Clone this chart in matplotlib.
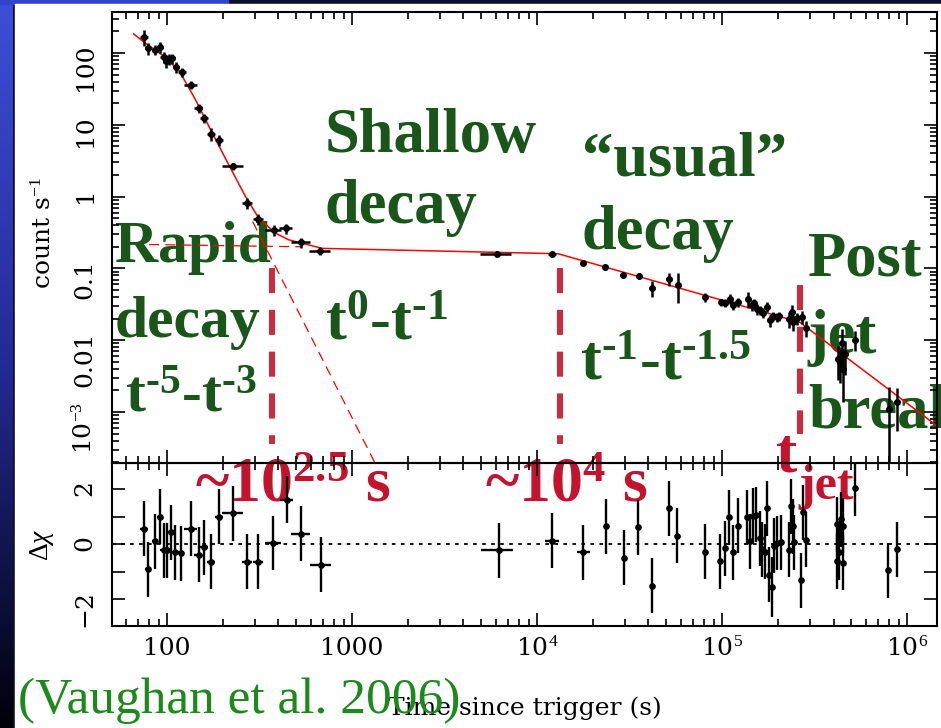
import numpy as np
import matplotlib.pyplot as plt
import matplotlib.transforms as mtransforms
from matplotlib.colors import LinearSegmentedColormap
from matplotlib.patches import Rectangle
from matplotlib.ticker import FixedLocator, FixedFormatter, LogLocator, NullFormatter

plt.rcParams['font.family'] = 'DejaVu Serif'
plt.rcParams['mathtext.fontset'] = 'custom'
plt.rcParams['mathtext.rm'] = 'Liberation Serif'
plt.rcParams['mathtext.bf'] = 'Liberation Serif:bold'
plt.rcParams['mathtext.it'] = 'Liberation Serif:italic'

# --- light curve (upper panel) ---
t_obs = [74.8, 78.7, 85.9, 91.4, 96, 99, 103, 106, 112, 120, 134, 148, 158.5, 172,
         192, 228, 271, 310, 377, 440, 532, 674,
         6080, 12060, 17700, 23300, 29300, 35600, 41700, 51700, 57400, 80900, 98400,
         1.04e5, 1.10e5, 1.15e5, 1.22e5, 1.38e5, 1.45e5, 1.49e5, 1.54e5, 1.60e5, 1.67e5,
         1.74e5, 1.82e5, 1.88e5, 1.98e5, 2.04e5, 2.31e5, 2.38e5, 2.43e5, 2.54e5, 2.71e5,
         2.84e5, 4.22e5, 4.34e5, 4.44e5, 4.49e5, 4.62e5, 5.25e5, 7.96e5, 8.79e5]
t_frac_err = [0.05, 0.04, 0.04, 0.04, 0.04, 0.04, 0.04, 0.04, 0.04, 0.05, 0.08, 0.05, 0.05, 0.05,
              0.05, 0.13, 0.06, 0.06, 0.10, 0.08, 0.12, 0.13,
              0.19, 0.05, 0.03, 0.03, 0.02, 0.02, 0.02, 0.02, 0.02, 0.02, 0.02,
              0.02, 0.02, 0.02, 0.02, 0.02, 0.02, 0.02, 0.02, 0.02, 0.02,
              0.02, 0.02, 0.02, 0.02, 0.02, 0.02, 0.02, 0.02, 0.02, 0.02,
              0.02, 0.02, 0.02, 0.02, 0.02, 0.02, 0.02, 0.02, 0.02]
rate = [166, 116, 111, 120, 87, 78, 82, 84, 64, 54, 36, 16.9, 12.4, 7.4,
        6.1, 2.65, 0.82, 0.49, 0.34, 0.36, 0.23, 0.176,
        0.159, 0.159, 0.12, 0.105, 0.081, 0.0785, 0.053, 0.071, 0.059, 0.040, 0.0337,
        0.033, 0.038, 0.031, 0.034, 0.038, 0.031, 0.0326, 0.0269, 0.0263, 0.0241,
        0.0292, 0.019, 0.0217, 0.0208, 0.0217, 0.0195, 0.0249, 0.018, 0.0201, 0.0212,
        0.015, 0.0055, 0.0050, 0.009, 0.0040, 0.0065, 0.0102, 0.0011, 0.00137]
rate_frac_err = [0.25, 0.2, 0.15, 0.17, 0.17, 0.2, 0.17, 0.17, 0.17, 0.15, 0.12, 0.15, 0.15, 0.2,
                 0.17, 0.12, 0.17, 0.17, 0.17, 0.17, 0.17, 0.12,
                 0.07, 0.05, 0.05, 0.05, 0.07, 0.10, 0.25, 0.20, 0.45, 0.15, 0.12,
                 0.12, 0.15, 0.15, 0.15, 0.25, 0.17, 0.15, 0.17, 0.15, 0.15,
                 0.15, 0.20, 0.15, 0.15, 0.15, 0.25, 0.25, 0.25, 0.20, 0.20,
                 0.25, 0.5, 0.5, 0.6, 0.65, 0.5, 0.3, 1.0, 0.6]

# --- residuals (lower panel) ---
t_res = [74.8, 78.7, 86, 91.4, 96, 100, 105, 111, 119, 134, 148, 159, 172, 192, 228, 271,
         310, 374, 444, 532, 680, 6200,
         12100, 17800, 23600, 29400, 35300, 41700, 51700, 56800, 80900, 98000,
         1.04e5, 1.09e5, 1.15e5, 1.22e5, 1.37e5, 1.42e5, 1.47e5, 1.53e5, 1.60e5, 1.64e5,
         1.70e5, 1.75e5, 1.79e5, 1.85e5, 1.91e5, 1.99e5, 2.07e5, 2.31e5, 2.36e5, 2.41e5,
         2.45e5, 2.66e5, 2.75e5, 2.83e5, 4.17e5, 4.17e5, 4.28e5, 4.40e5, 4.48e5, 4.52e5,
         5.2e5, 7.9e5, 8.8e5]
t_res_frac_err = [0.05, 0.04, 0.04, 0.04, 0.04, 0.04, 0.04, 0.04, 0.04, 0.08, 0.05, 0.05, 0.05,
                  0.05, 0.13, 0.06, 0.06, 0.10, 0.08, 0.12, 0.13, 0.2,
                  0.09, 0.08, 0.02, 0.02, 0.02, 0.02, 0.02, 0.02, 0.02, 0.02,
                  0.02, 0.02, 0.02, 0.02, 0.02, 0.02, 0.02, 0.02, 0.02, 0.02,
                  0.02, 0.02, 0.02, 0.02, 0.02, 0.02, 0.02, 0.02, 0.02, 0.02,
                  0.02, 0.02, 0.02, 0.02, 0.02, 0.02, 0.02, 0.02, 0.02, 0.02,
                  0.02, 0.02, 0.02]
dchi = [0.56, -0.91, 0.1, 1.0, -0.23, -0.23, 0.43, -0.3, -0.33, 0.55, -0.39, -0.12, -0.65,
        1.0, 1.13, -0.65, -0.65, 0.04, 1.61, 0.38, -0.75, -0.23,
        0.13, -0.3, 0.64, -0.5, 0.62, -1.52, 1.31, 0.3, -0.27, -0.63,
        -0.15, 0.98, -0.3, 0.67, 0.98, 0.1, 1.04, 1.07, 0.22, -0.18,
        -0.27, 1.31, -1.12, -1.56, -0.06, 0.04, 0.06, -0.21, 1.37, 0.64,
        0.07, -1.32, 1.15, 0.16, 0.73, -0.63, -0.3, 0.91, -0.67, 0.67,
        2.04, -0.96, -0.18]
dchi_err = [1.0, 1.0, 1.0, 1.0, 1.0, 1.0, 1.0, 1.0, 1.0, 1.0, 1.0, 1.0, 1.0,
            1.0, 1.0, 1.0, 1.0, 1.0, 0.85, 1.0, 1.0, 1.0,
            1.0, 1.0, 1.0, 1.0, 1.0, 1.0, 1.0, 1.0, 1.0, 1.0,
            1.0, 1.0, 1.0, 1.0, 1.0, 1.0, 1.0, 1.0, 1.0, 1.0,
            1.0, 1.0, 1.0, 1.1, 1.0, 1.0, 1.0, 1.0, 1.0, 1.0,
            1.0, 1.0, 1.0, 1.0, 1.0, 1.0, 1.0, 1.0, 1.0, 1.0,
            1.0, 1.0, 1.0]

# --- fitted model, components and break times ---
model_t = [66, 76, 94, 116, 142, 175, 215, 265, 313, 385, 455, 689, 13000, 2.63e5, 1.5e6]
model_rate = [184, 138, 94, 57, 22.7, 7.8, 2.8, 1.01, 0.50, 0.31, 0.25, 0.19, 0.16, 0.0178, 6e-4]
steep_t = [290, 1400]
steep_rate = [0.45, 1.5e-4]
plateau_t = [80, 530]
plateau_rate = [0.215, 0.20]
break_t = [368, 1.33e4, 2.64e5]
break_top = [0.102, 0.102, 0.059]
break_bottom = [3.6e-4, 3.6e-4, 4.9e-4]

W, H = 941, 728
fig = plt.figure(figsize=(W / 100, H / 100), dpi=100)
fig.patch.set_facecolor('#0d0d30')

# slide background
bg = fig.add_axes([0, 0, 1, 1], zorder=-10)
edge_cmap = LinearSegmentedColormap.from_list('edge', ['#3d4fd9', '#232a96', '#000008'])
bg.imshow(np.linspace(0, 1, 256)[:, None], cmap=edge_cmap, extent=(0, 13, H, 0), aspect='auto')
bg.add_patch(Rectangle((0, 0), 228, 4, color='#3444c8'))
bg.add_patch(Rectangle((15, 4), W - 15, H - 4, color='white'))
bg.set_xlim(0, W)
bg.set_ylim(H, 0)
bg.axis('off')

ax1 = fig.add_axes([112 / W, 1 - 463 / H, 825 / W, 451 / H])
ax2 = fig.add_axes([112 / W, 1 - 626 / H, 825 / W, 163 / H], sharex=ax1)
for ax in (ax1, ax2):
    ax.patch.set_facecolor('none')
    for s in ax.spines.values():
        s.set_linewidth(1.5)

# upper panel
t = np.array(t_obs)
r = np.array(rate)
ax1.plot(model_t, model_rate, color='red', lw=1.1, zorder=2)
ax1.plot(steep_t, steep_rate, color='red', lw=0.9, dashes=(8, 5), zorder=2)
ax1.plot(plateau_t, plateau_rate, color='red', lw=0.9, dashes=(8, 5), zorder=2)
ax1.errorbar(t, r, yerr=r * np.array(rate_frac_err), xerr=t * np.array(t_frac_err),
             fmt='o', ms=4, color='k', elinewidth=1.8, capsize=0, zorder=3)
for tb, hi, lo in zip(break_t, break_top, break_bottom):
    ax1.plot([tb, tb], [hi, lo], color='#cc2a3e', lw=4.3, dashes=(4.2, 2.8), zorder=2.5)

ax1.set_xscale('log')
ax1.set_yscale('log')
ax1.set_xlim(50.4, 1.45e6)
ax1.set_ylim(1.95e-4, 372)
ax1.yaxis.set_major_locator(FixedLocator([1e-3, 0.01, 0.1, 1, 10, 100]))
ax1.yaxis.set_major_formatter(FixedFormatter(['10$^{-3}$', '0.01', '0.1', '1', '10', '100']))
ax1.yaxis.set_minor_locator(LogLocator(base=10, subs=np.arange(2, 10), numticks=30))
ax1.yaxis.set_minor_formatter(NullFormatter())
ax1.set_ylabel('count s$^{-1}$', fontsize=18)
ax1.yaxis.set_label_coords(-0.068, 0.51)

# lower panel
tr = np.array(t_res)
ax2.axhline(0, color='k', lw=1.3, linestyle=(0, (2, 3)), zorder=1)
ax2.errorbar(tr, dchi, yerr=dchi_err, xerr=tr * np.array(t_res_frac_err),
             fmt='o', ms=3.8, color='k', elinewidth=1.7, capsize=0, zorder=3)
ax2.set_ylim(-2.98, 2.95)
ax2.yaxis.set_major_locator(FixedLocator([-2, -1, 0, 1, 2]))
ax2.yaxis.set_major_formatter(FixedFormatter(['\u22122', '', '0', '', '2']))
ax2.xaxis.set_major_locator(FixedLocator([100, 1000, 1e4, 1e5, 1e6]))
ax2.xaxis.set_major_formatter(FixedFormatter(['100', '1000', '10$^4$', '10$^5$', '10$^6$']))
ax2.xaxis.set_minor_locator(LogLocator(base=10, subs=np.arange(2, 10), numticks=30))
ax2.xaxis.set_minor_formatter(NullFormatter())
ax2.set_ylabel(r'$\Delta\chi$', fontsize=20)
ax2.yaxis.set_label_coords(-0.068, 0.5)
ax2.set_xlabel('Time since trigger (s)', fontsize=18)
ax2.xaxis.set_label_coords(0.5, -0.43)

for ax in (ax1, ax2):
    ax.tick_params(which='both', direction='in', top=True, right=True, width=1.2, labelsize=18)
    ax.tick_params(which='major', length=9.5)
    ax.tick_params(which='minor', length=5)
    ax.tick_params(axis='y', labelrotation=90, pad=11)
    ax.tick_params(axis='x', pad=8)
ax1.tick_params(labelbottom=False)

# annotations, placed in figure pixels
px = mtransforms.Affine2D().scale(1 / W, -1 / H).translate(0, 1) + fig.transFigure
green = '#1a551a'
crimson = '#c2132f'


def label(x, y, s, size, color, weight='bold'):
    ax1.text(x, y, s, transform=px, fontsize=size, color=color, fontweight=weight,
             family='Liberation Serif', ha='left', va='baseline', zorder=1, clip_on=False)


hy = '\u2010'  # short hyphen for the superscript exponents
label(325, 152, 'Shallow', 45, green)
label(325, 223, 'decay', 45, green)
label(325, 340, r't$^{\mathbf{0}}$-t$^{\mathbf{' + hy + '1}}$', 45, green)
label(115, 262, 'Rapid', 43, green)
label(115, 337, 'decay', 43, green)
label(125, 412, r't$^{\mathbf{' + hy + '5}}$-t$^{\mathbf{' + hy + '3}}$', 43, green)
label(582, 175, '\u201cusual\u201d', 45, green)
label(582, 249, 'decay', 45, green)
label(580, 380, r't$^{\mathbf{' + hy + '1}}$-t$^{\mathbf{' + hy + '1.5}}$', 45, green)
label(808, 275, 'Post', 45, green)
label(808, 353, 'jet', 45, green)
label(808, 427, 'break', 45, green)

label(195, 502, r'~10$^{\mathbf{2.5}}$ s', 46, crimson)
label(485, 502, r'~10$^{\mathbf{4}}$ s', 46, crimson)
label(776, 472, 't', 46, crimson)
label(798, 499, 'jet', 36, crimson)

fig.text(18, 713, '(Vaughan et al. 2006)', transform=px, fontsize=37, color='#1b8a1b',
         family='Liberation Serif', ha='left', va='baseline', zorder=5)

fig.savefig('out.png', dpi=100)
